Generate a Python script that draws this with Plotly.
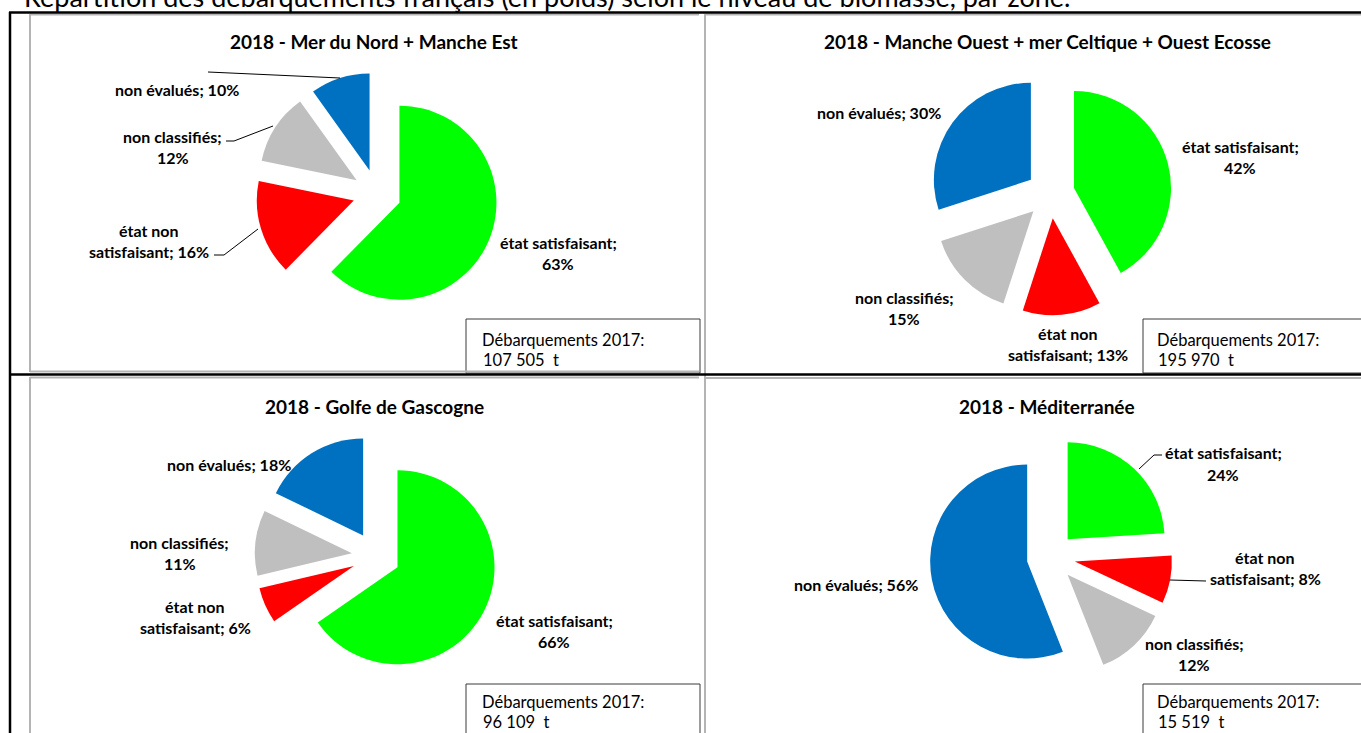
import plotly.graph_objects as go

W, H = 1361, 733

# ---------------- data ----------------
page_title = "Répartition des débarquements français (en poids) selon le niveau de biomasse, par zone."
categories = ["état satisfaisant", "état non satisfaisant", "non classifiés", "non évalués"]
colors = ["#00FF00", "#FF0000", "#BFBFBF", "#0070C0"]

zone_titles = [
    "2018 - Mer du Nord + Manche Est",
    "2018 - Manche Ouest + mer Celtique + Ouest Ecosse",
    "2018 - Golfe de Gascogne",
    "2018 - Méditerranée",
]
share_nord_manche_est = [63, 16, 12, 10]
share_manche_ouest = [42, 13, 15, 30]
share_gascogne = [66, 6, 11, 18]
share_mediterranee = [24, 8, 12, 56]
landings_2017 = ["107 505", "195 970", "96 109", "15 519"]

label_templates = {
    "état satisfaisant": "état satisfaisant;<br>{v}%",
    "état non satisfaisant": "état non<br>satisfaisant; {v}%",
    "non classifiés": "non classifiés;<br>{v}%",
    "non évalués": "non évalués; {v}%",
}

# ---------------- layout (pixel positions) ----------------
R = 97
PULL = 0.25
panels = [
    dict(values=share_nord_manche_est, center=(377, 193.5), title=(374, 42),
         box=(466, 319, 700, 373), btext=(480, 340),
         labels=[(558, 253), (149, 241), (172.5, 147), (176.5, 90)],
         leaders=[[(208, 72), (340, 78)],
                  [(226, 141), (234, 141), (273, 126)],
                  [(214, 255), (224, 255), (258, 229)]]),
    dict(values=share_manche_ouest, center=(1050.5, 194), title=(1047, 42),
         box=(1143, 319, 1370, 373), btext=(1155, 340),
         labels=[(1240, 156.5), (1068, 344), (904, 307.5), (878.5, 112)],
         leaders=[]),
    dict(values=share_gascogne, center=(376, 556), title=(374, 406),
         box=(466, 684, 700, 740), btext=(480, 702),
         labels=[(554, 630.5), (195, 617), (180, 552.5), (229, 464)],
         leaders=[]),
    dict(values=share_mediterranee, center=(1051, 557), title=(1047, 406),
         box=(1143, 684, 1370, 740), btext=(1155, 702),
         labels=[(1223, 463.5), (1265, 568), (1194, 653.5), (855.5, 584)],
         leaders=[[(1162, 455), (1154, 455), (1139, 469)],
                  [(1206, 581), (1170, 580)]]),
]


def px(x):
    return x / W


def py(y):
    return 1 - y / H


FONT = "Lato, 'Open Sans', sans-serif"
fig = go.Figure()
annotations = []
shapes = []

for i, p in enumerate(panels):
    cx, cy = p["center"]
    half = R * (1 + PULL)
    fig.add_trace(go.Pie(
        labels=categories,
        values=p["values"],
        marker=dict(colors=colors, line=dict(width=0)),
        sort=False,
        direction="clockwise",
        rotation=0,
        pull=PULL,
        textinfo="none",
        hoverinfo="label+value",
        showlegend=False,
        domain=dict(x=[px(cx - half), px(cx + half)], y=[py(cy + half), py(cy - half)]),
    ))
    # title
    annotations.append(dict(text=zone_titles[i], x=px(p["title"][0]), y=py(p["title"][1]),
                            xref="paper", yref="paper", showarrow=False,
                            xanchor="center", yanchor="middle",
                            font=dict(family=FONT, size=19, color="black", weight="bold")))
    # data labels
    for cat, v, (lx, ly) in zip(categories, p["values"], p["labels"]):
        lines = label_templates[cat].format(v=v).split("<br>")
        n = len(lines)
        for k, line in enumerate(lines):
            yy = ly + (k - (n - 1) / 2) * 21
            annotations.append(dict(text=line, x=px(lx), y=py(yy), xref="paper", yref="paper",
                                    showarrow=False, xanchor="center", yanchor="middle",
                                    font=dict(family=FONT, size=16, color="black", weight="bold")))
    # leader lines
    for pts in p["leaders"]:
        path = "M " + " L ".join(f"{px(a)},{py(b)}" for a, b in pts)
        shapes.append(dict(type="path", path=path, xref="paper", yref="paper",
                           line=dict(color="black", width=1)))
    # landings text box
    x0, y0, x1, y1 = p["box"]
    shapes.append(dict(type="rect", x0=px(x0), x1=px(x1), y0=py(y0), y1=py(y1),
                       xref="paper", yref="paper", line=dict(color="#3a3a3a", width=1),
                       fillcolor="white", layer="below"))
    bx, by = p["btext"]
    annotations.append(dict(text="Débarquements 2017:", x=px(bx), y=py(by), xref="paper", yref="paper",
                            showarrow=False, xanchor="left", yanchor="middle",
                            font=dict(family=FONT, size=16.5, color="black")))
    annotations.append(dict(text=landings_2017[i] + "\u00a0 t", x=px(bx + 1), y=py(by + 20),
                            xref="paper", yref="paper",
                            showarrow=False, xanchor="left", yanchor="middle",
                            font=dict(family=FONT, size=16.5, color="black")))

# frame lines (gray chart borders)
GRAY = "#B4B4B4"
frame = [
    ((30, 14.5), (699, 14.5)), ((30, 14), (30, 372)), ((30, 371.5), (699, 371.5)),
    ((705, 14.5), (1361, 14.5)), ((705, 14), (705, 733)),
    ((30, 377.5), (699, 377.5)), ((30, 377), (30, 733)),
    ((705, 378), (1361, 378)),
]
for (a, b), (c, d) in frame:
    shapes.append(dict(type="line", x0=px(a), y0=py(b), x1=px(c), y1=py(d), xref="paper", yref="paper",
                       line=dict(color=GRAY, width=2)))
# black table lines
black = [((9, 12.5), (1361, 12.5)), ((10, 12), (10, 733)), ((9, 374.5), (1361, 374.5))]
for (a, b), (c, d) in black:
    shapes.append(dict(type="line", x0=px(a), y0=py(b), x1=px(c), y1=py(d), xref="paper", yref="paper",
                       line=dict(color="black", width=2.5)))

# page title (cut at the top of the image, as in the reference)
annotations.append(dict(text=page_title, x=px(22), y=py(-4), xref="paper", yref="paper", showarrow=False,
                        xanchor="left", yanchor="middle",
                        font=dict(family=FONT, size=27, color="black")))

fig.update_layout(
    width=W, height=H, margin=dict(l=0, r=0, t=0, b=0),
    paper_bgcolor="white", plot_bgcolor="white",
    annotations=annotations, shapes=shapes,
)

fig.write_html("out.html", config={"displayModeBar": False},
               post_script="document.body.style.margin='0';document.body.style.overflow='hidden';")
